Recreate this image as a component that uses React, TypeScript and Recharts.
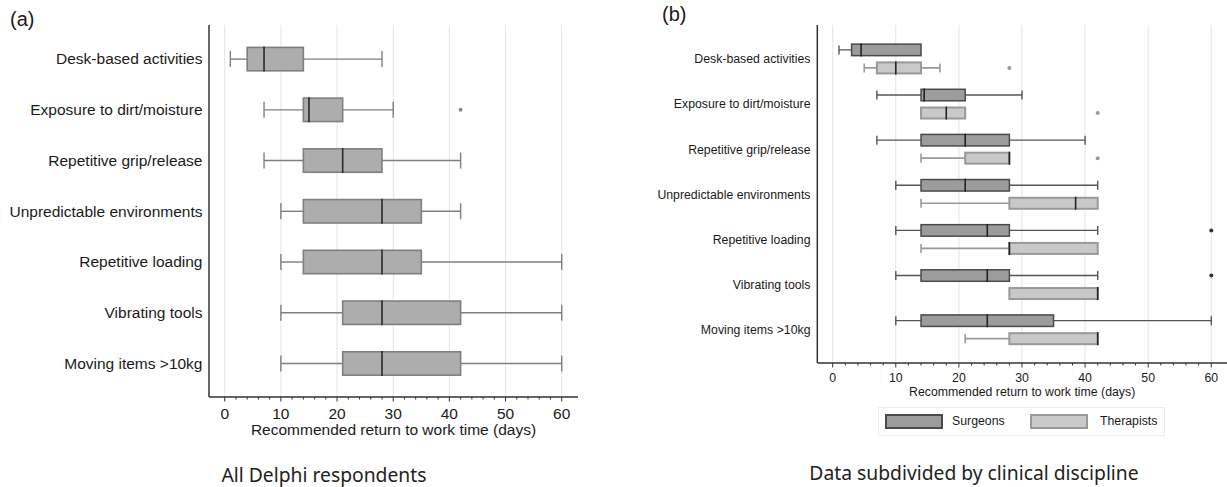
import { ComposedChart, Bar, XAxis, YAxis, CartesianGrid } from 'recharts';

const FONT = '"Liberation Sans", Arial, Helvetica, sans-serif';
const CAPTION_FONT = '"Noto Sans", "Open Sans", sans-serif';

const categories = [
  'Desk-based activities',
  'Exposure to dirt/moisture',
  'Repetitive grip/release',
  'Unpredictable environments',
  'Repetitive loading',
  'Vibrating tools',
  'Moving items >10kg',
];

// [lower whisker, Q1, median, Q3, upper whisker] in days
const allStats = [
  [1, 4, 7, 14, 28],
  [7, 14, 15, 21, 30],
  [7, 14, 21, 28, 42],
  [10, 14, 28, 35, 42],
  [10, 14, 28, 35, 60],
  [10, 21, 28, 42, 60],
  [10, 21, 28, 42, 60],
];
const allOutliers = [[], [42], [], [], [], [], []];

const surgeonStats = [
  [1, 3, 4.5, 14, 14],
  [7, 14, 14.5, 21, 30],
  [7, 14, 21, 28, 40],
  [10, 14, 21, 28, 42],
  [10, 14, 24.5, 28, 42],
  [10, 14, 24.5, 28, 42],
  [10, 14, 24.5, 35, 60],
];
const surgeonOutliers = [[], [], [], [], [60], [60], []];

const therapistStats = [
  [5, 7, 10, 14, 17],
  [14, 14, 18, 21, 21],
  [14, 21, 28, 28, 28],
  [14, 28, 38.5, 42, 42],
  [14, 28, 28, 42, 42],
  [28, 28, 42, 42, 42],
  [21, 28, 42, 42, 42],
];
const therapistOutliers = [[28], [42], [42], [], [], [], []];

const majorTicks = [0, 10, 20, 30, 40, 50, 60];
const allTicks = [
  0, 2, 4, 6, 8, 10, 12, 14, 16, 18, 20, 22, 24, 26, 28, 30,
  32, 34, 36, 38, 40, 42, 44, 46, 48, 50, 52, 54, 56, 58, 60,
];

const rowsA = categories.map((name, i) => ({ name, all: allStats[i], allOut: allOutliers[i] }));
const rowsB = categories.map((name, i) => ({
  name,
  surg: surgeonStats[i],
  surgOut: surgeonOutliers[i],
  ther: therapistStats[i],
  therOut: therapistOutliers[i],
}));

type Look = {
  fill: string;
  stroke: string;
  whisker: string;
  median: string;
  dot: string;
  cap: number;
  sw: number;
  wsw: number;
};

const lookAll: Look = { fill: '#adadad', stroke: '#7f7f7f', whisker: '#7f7f7f', median: '#2a2a2a', dot: '#8a8a8a', cap: 16, sw: 1.6, wsw: 1.4 };
const lookSurg: Look = { fill: '#9c9c9c', stroke: '#4a4a4a', whisker: '#555', median: '#222', dot: '#333', cap: 9, sw: 1.5, wsw: 1.4 };
const lookTher: Look = { fill: '#c9c9c9', stroke: '#999', whisker: '#999', median: '#222', dot: '#9a9a9a', cap: 9, sw: 2, wsw: 1.6 };

// box drawn inside the range bar [lower whisker, upper whisker]
const makeBox = (key: string, look: Look) => (props: any) => {
  const { x, y, width, height, payload } = props;
  const [lo, q1, med, q3, hi] = payload[key];
  const outs: number[] = payload[key + 'Out'] || [];
  const px = (v: number) => x + ((v - lo) / (hi - lo)) * width;
  const cy = y + height / 2;
  const h = look.cap / 2;
  return (
    <g>
      {lo < q1 && (
        <g stroke={look.whisker} strokeWidth={look.wsw}>
          <line x1={px(lo)} x2={px(q1)} y1={cy} y2={cy} />
          <line x1={px(lo)} x2={px(lo)} y1={cy - h} y2={cy + h} />
        </g>
      )}
      {hi > q3 && (
        <g stroke={look.whisker} strokeWidth={look.wsw}>
          <line x1={px(q3)} x2={px(hi)} y1={cy} y2={cy} />
          <line x1={px(hi)} x2={px(hi)} y1={cy - h} y2={cy + h} />
        </g>
      )}
      <rect
        x={px(q1)}
        y={y + look.sw / 2}
        width={px(q3) - px(q1)}
        height={height - look.sw}
        fill={look.fill}
        stroke={look.stroke}
        strokeWidth={look.sw}
      />
      <line x1={px(med)} x2={px(med)} y1={y} y2={y + height} stroke={look.median} strokeWidth={1.6} />
      {outs.map((o) => (
        <circle key={o} cx={px(o)} cy={cy} r={2} fill={look.dot} />
      ))}
    </g>
  );
};

const makeTick = (fontSize: number, labelDy: number) => (props: any) => {
  const { x, y, payload } = props;
  const major = payload.value % 10 === 0;
  return (
    <g>
      <line x1={x} x2={x} y1={y} y2={y + (major ? 4.5 : 2.5)} stroke="#333" strokeWidth={1} />
      {major && (
        <text x={x} y={y + labelDy} textAnchor="middle" fontSize={fontSize} fill="#1a1a1a">
          {payload.value}
        </text>
      )}
    </g>
  );
};

export default function App() {
  return (
    <div
      style={{
        position: 'absolute',
        left: 0,
        top: 0,
        width: 1227,
        height: 487,
        background: '#fff',
        fontFamily: FONT,
        color: '#1a1a1a',
        overflow: 'hidden',
      }}
    >
      <div style={{ position: 'absolute', left: 10, top: 7, fontSize: 20, lineHeight: '24px' }}>(a)</div>
      <div style={{ position: 'absolute', left: 662, top: 2, fontSize: 20, lineHeight: '24px' }}>(b)</div>

      <div style={{ position: 'absolute', left: 0, top: 0 }}>
        <ComposedChart
          width={600}
          height={450}
          data={rowsA}
          layout="vertical"
          margin={{ top: 25, right: 22, bottom: 0, left: 9 }}
        >
          <CartesianGrid horizontal={false} stroke="#e4e4e4" verticalValues={majorTicks} />
          <XAxis
            type="number"
            domain={[-2.8, 62.9]}
            ticks={allTicks}
            interval={0}
            allowDataOverflow
            height={53}
            tickSize={0}
            tickMargin={0}
            tickLine={false}
            axisLine={{ stroke: '#333', strokeWidth: 1.5 }}
            tick={makeTick(15.5, 21.5)}
            label={{
              value: 'Recommended return to work time (days)',
              position: 'insideTop',
              offset: 27,
              fontSize: 15.5,
              fill: '#1a1a1a',
            }}
          />
          <YAxis
            type="category"
            dataKey="name"
            width={200}
            interval={0}
            padding={{ top: 8.6, bottom: 8.3 }}
            tickLine={false}
            tickSize={4}
            tickMargin={2.5}
            axisLine={{ stroke: '#333', strokeWidth: 1.5 }}
            tick={{ fontSize: 15.5, fill: '#1a1a1a' }}
          />
          <Bar
            dataKey={(d: any) => [d.all[0], d.all[4]]}
            barSize={25}
            shape={makeBox('all', lookAll)}
            isAnimationActive={false}
          />
        </ComposedChart>
      </div>

      <div style={{ position: 'absolute', left: 620, top: 0 }}>
        <ComposedChart
          width={607}
          height={410}
          data={rowsB}
          layout="vertical"
          barGap={5}
          margin={{ top: 25, right: 0, bottom: 0, left: 7.3 }}
        >
          <CartesianGrid horizontal={false} stroke="#e4e4e4" verticalValues={majorTicks} />
          <XAxis
            type="number"
            domain={[-2.44, 62.49]}
            ticks={allTicks}
            interval={0}
            allowDataOverflow
            height={47}
            tickSize={0}
            tickMargin={0}
            tickLine={false}
            axisLine={{ stroke: '#333', strokeWidth: 1.5 }}
            tick={makeTick(12.3, 18.7)}
            label={{
              value: 'Recommended return to work time (days)',
              position: 'insideTop',
              offset: 24,
              fontSize: 12.3,
              fill: '#1a1a1a',
            }}
          />
          <YAxis
            type="category"
            dataKey="name"
            width={190}
            interval={0}
            padding={{ top: 11.4, bottom: 10.7 }}
            tickLine={false}
            tickSize={4}
            tickMargin={2.8}
            axisLine={{ stroke: '#333', strokeWidth: 1.5 }}
            tick={{ fontSize: 12.3, fill: '#1a1a1a' }}
          />
          <Bar
            dataKey={(d: any) => [d.surg[0], d.surg[4]]}
            barSize={13}
            shape={makeBox('surg', lookSurg)}
            isAnimationActive={false}
          />
          <Bar
            dataKey={(d: any) => [d.ther[0], d.ther[4]]}
            barSize={13}
            shape={makeBox('ther', lookTher)}
            isAnimationActive={false}
          />
        </ComposedChart>
      </div>

      <div
        style={{
          position: 'absolute',
          left: 878,
          top: 407,
          width: 287,
          height: 29,
          border: '1px solid #ececec',
          boxSizing: 'border-box',
          fontSize: 12.3,
        }}
      >
        <div
          style={{
            position: 'absolute',
            left: 6,
            top: 6,
            width: 58,
            height: 15,
            background: lookSurg.fill,
            border: '2px solid ' + lookSurg.stroke,
            boxSizing: 'border-box',
          }}
        />
        <div style={{ position: 'absolute', left: 73, top: 5, lineHeight: '17px' }}>Surgeons</div>
        <div
          style={{
            position: 'absolute',
            left: 151,
            top: 6,
            width: 58,
            height: 15,
            background: lookTher.fill,
            border: '2px solid ' + lookTher.stroke,
            boxSizing: 'border-box',
          }}
        />
        <div style={{ position: 'absolute', left: 221, top: 5, lineHeight: '17px' }}>Therapists</div>
      </div>

      <div
        style={{
          position: 'absolute',
          left: 204,
          width: 240,
          top: 461,
          textAlign: 'center',
          fontFamily: CAPTION_FONT,
          fontSize: 19.3,
          lineHeight: '28px',
          whiteSpace: 'nowrap',
          color: '#222',
        }}
      >
        All Delphi respondents
      </div>
      <div
        style={{
          position: 'absolute',
          left: 794,
          width: 360,
          top: 459,
          textAlign: 'center',
          fontFamily: CAPTION_FONT,
          fontSize: 19.3,
          lineHeight: '28px',
          whiteSpace: 'nowrap',
          color: '#222',
        }}
      >
        Data subdivided by clinical discipline
      </div>
    </div>
  );
}
